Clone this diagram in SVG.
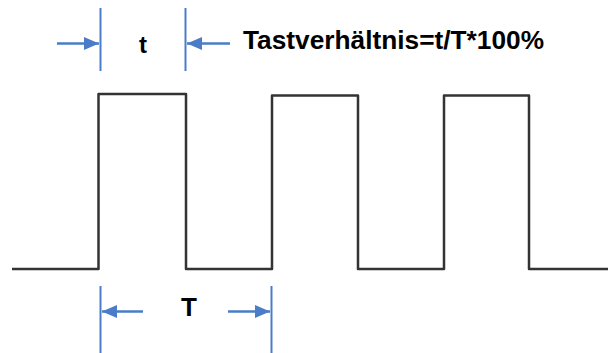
<svg xmlns="http://www.w3.org/2000/svg" width="608" height="353" viewBox="0 0 608 353">
<style>
.wave{fill:none;stroke:#333;stroke-width:2.5;stroke-linejoin:round}
.dim{stroke:#4a7cc7;stroke-width:2;fill:none}
.arr{stroke:#4a7cc7;stroke-width:2.5;fill:none}
.lbl{font-family:"Liberation Sans",Arial,sans-serif;font-weight:bold;fill:#000}
</style>
<defs>
<marker id="ah" markerWidth="15" markerHeight="13" viewBox="0 0 15 13" refX="15" refY="6.5" orient="auto" markerUnits="userSpaceOnUse">
<path d="M0,0 L15,6.5 L0,13 Z" fill="#4a7cc7"/>
</marker>
</defs>
<rect width="608" height="353" fill="#fff"/>
<g id="waveform">
<path class="wave" d="M12,269 H98.5 V94 H186 V269 H272 V95.5 H358 V269 H444 V95.5 H529 V269 H608"/>
</g>
<g id="connectors">
<line class="dim" x1="100.5" y1="8" x2="100.5" y2="71"/>
<line class="dim" x1="185.5" y1="8" x2="185.5" y2="71"/>
<line class="arr" x1="57" y1="43.5" x2="99" y2="43.5" marker-end="url(#ah)"/>
<line class="arr" x1="230" y1="43.5" x2="187" y2="43.5" marker-end="url(#ah)"/>
<line class="dim" x1="100.5" y1="286" x2="100.5" y2="353"/>
<line class="dim" x1="271.5" y1="286" x2="271.5" y2="353"/>
<line class="arr" x1="143" y1="311.5" x2="102" y2="311.5" marker-end="url(#ah)"/>
<line class="arr" x1="228" y1="311.5" x2="270" y2="311.5" marker-end="url(#ah)"/>
</g>
<g id="label-t"><text class="lbl" x="143" y="53" font-size="24" text-anchor="middle">t</text></g>
<g id="label-T"><text class="lbl" x="189" y="316" font-size="26" text-anchor="middle">T</text></g>
<g id="label-formula"><text class="lbl" x="243" y="49" font-size="25" textLength="301" lengthAdjust="spacingAndGlyphs">Tastverhältnis=t/T*100%</text></g>
</svg>
